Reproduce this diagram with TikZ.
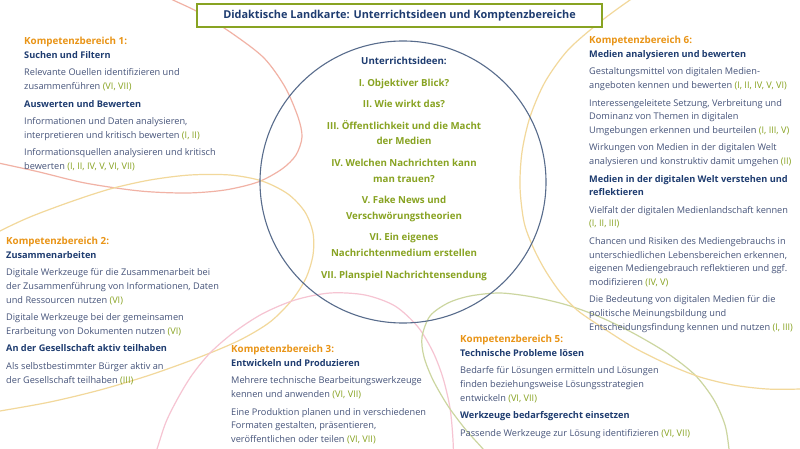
\documentclass[tikz,border=0pt]{standalone}
\usepackage{fontspec}
\setmainfont{Open Sans}
\definecolor{kborange}{RGB}{233,148,22}
\definecolor{kbblue}{RGB}{30,60,112}
\definecolor{kbtext}{RGB}{70,84,122}
\definecolor{kbgreen}{RGB}{136,163,34}
\definecolor{ringblue}{RGB}{88,108,140}
\definecolor{arcred}{RGB}{241,178,165}
\definecolor{arcyellow}{RGB}{242,216,155}
\definecolor{arcpink}{RGB}{246,196,210}
\definecolor{arcgreen}{RGB}{204,214,160}
\newcommand{\kbhead}[1]{{\fontsize{9.8}{13.6}\bfseries\color{kborange}#1}}
\newcommand{\kbsub}[1]{{\bfseries\color{kbblue}#1}}
\newcommand{\rn}[1]{\textcolor{kbgreen}{#1}}

\begin{document}
\begin{tikzpicture}[x=1pt, y=-1pt,
	every node/.style={font=\fontsize{9.2}{13.6}\selectfont},
	kb/.style={anchor=north west, align=left, inner sep=0pt, text=kbtext},
	idea/.style={anchor=north, align=center, inner sep=0pt, text=kbgreen, font=\fontsize{9.7}{15.8}\bfseries},
	arc/.style={line width=1.2pt}]
	\useasboundingbox (0,0) rectangle (800,449);
	\fill[white] (0,0) rectangle (800,449);
	\begin{scope}
		\clip (0,0) rectangle (800,449);
		\draw[arc, arcred] plot[smooth] coordinates {(140,-16) (173,0) (200,13) (233,34) (264,58) (285,87) (298,117) (302,137) (296,155) (282,169) (258,182) (225,190) (187,193) (140,191) (85,183) (35,171) (-25,158)};
		\draw[arc, arcyellow] plot[smooth] coordinates {(-25,245) (0,231) (30,217) (70,202) (110,189) (150,180) (190,175) (230,175) (262,181) (288,194) (305,212) (313,233) (313,255) (306,278) (292,300) (270,322) (240,340) (200,357) (150,375) (100,390) (50,402) (0,411) (-25,415)};
		\draw[arc, arcpink] plot[smooth] coordinates {(148,475) (157,449) (166,422) (178,398) (192,375) (210,353) (233,333) (262,314) (295,300) (330,293) (365,295) (395,306) (418,327) (433,352) (443,378) (450,408) (453,440) (454,475)};
		\draw[arc, arcgreen] plot[smooth] coordinates {(495,465) (483,449) (466,430) (448,406) (433,380) (424,357) (422,337) (430,316) (448,303) (470,296) (500,293) (533,297) (567,305) (600,317) (633,333) (667,353) (695,375) (714,400) (725,425) (729,449) (731,470)};
		\draw[arc, arcyellow] plot[smooth] coordinates {(650,-12) (630,0) (600,22) (568,50) (545,82) (530,117) (522,152) (520,187) (524,222) (533,247) (545,270) (560,292) (577,310) (600,326) (633,347) (667,364) (700,377) (733,385) (767,389) (800,389) (830,387)};
	\end{scope}
	\draw[ringblue, line width=1.1pt] (403,182) ellipse [x radius=143, y radius=141];

	\node[draw=kbgreen, line width=1.5pt, fill=white, minimum width=405pt, minimum height=23pt, inner sep=0pt, text=kbblue, font=\fontsize{10.9}{12}\bfseries] (title) at (399.5,15.5) {Didaktische Landkarte: Unterrichtsideen und Komptenzbereiche};

	\node[idea] (ideas) at (404,57) {\textcolor{kbblue}{Unterrichtsideen:}\\[5.7pt]
		I. Objektiver Blick?\\[5.7pt]
		II. Wie wirkt das?\\[5.7pt]
		III. Öffentlichkeit und die Macht\\
		der Medien\\[5.7pt]
		IV. Welchen Nachrichten kann\\
		man trauen?\\[5.7pt]
		V. Fake News und\\
		Verschwörungstheorien\\[5.7pt]
		VI. Ein eigenes\\
		Nachrichtenmedium erstellen\\[5.7pt]
		VII. Planspiel Nachrichtensendung};

	\node[kb] (k1) at (24,37) {\kbhead{Kompetenzbereich 1:}\\
		\kbsub{Suchen und Filtern}\\[4pt]
		Relevante Ouellen identifizieren und\\
		zusammenführen \rn{(VI, VII)}\\[4pt]
		\kbsub{Auswerten und Bewerten}\\[4pt]
		Informationen und Daten analysieren,\\
		interpretieren und kritisch bewerten \rn{(I, II)}\\[4pt]
		Informationsquellen analysieren und kritisch\\
		bewerten \rn{(I, II, IV, V, VI, VII)}};

	\node[kb] (k2) at (6,237) {\kbhead{Kompetenzbereich 2:}\\
		\kbsub{Zusammenarbeiten}\\[4pt]
		Digitale Werkzeuge für die Zusammenarbeit bei\\
		der Zusammenführung von Informationen, Daten\\
		und Ressourcen nutzen \rn{(VI)}\\[4pt]
		Digitale Werkzeuge bei der gemeinsamen\\
		Erarbeitung von Dokumenten nutzen \rn{(VI)}\\[4pt]
		\kbsub{An der Gesellschaft aktiv teilhaben}\\[4pt]
		Als selbstbestimmter Bürger aktiv an\\
		der Gesellschaft teilhaben \rn{(III)}};

	\node[kb] (k3) at (231,345) {\kbhead{Kompetenzbereich 3:}\\
		\kbsub{Entwickeln und Produzieren}\\[4pt]
		Mehrere technische Bearbeitungswerkzeuge\\
		kennen und anwenden \rn{(VI, VII)}\\[4pt]
		Eine Produktion planen und in verschiedenen\\
		Formaten gestalten, präsentieren,\\
		veröffentlichen oder teilen \rn{(VI, VII)}};

	\node[kb] (k5) at (460,335) {\kbhead{Kompetenzbereich 5:}\\
		\kbsub{Technische Probleme lösen}\\[4pt]
		Bedarfe für Lösungen ermitteln und Lösungen\\
		finden beziehungsweise Lösungsstrategien\\
		entwickeln \rn{(VI, VII)}\\[4pt]
		\kbsub{Werkzeuge bedarfsgerecht einsetzen}\\[4pt]
		Passende Werkzeuge zur Lösung identifizieren \rn{(VI, VII)}};

	\node[kb] (k6) at (589,36) {\kbhead{Kompetenzbereich 6:}\\
		\kbsub{Medien analysieren und bewerten}\\[4pt]
		Gestaltungsmittel von digitalen Medien-\\
		angeboten kennen und bewerten \rn{(I, II, IV, V, VI)}\\[4pt]
		Interessengeleitete Setzung, Verbreitung und\\
		Dominanz von Themen in digitalen\\
		Umgebungen erkennen und beurteilen \rn{(I, III, V)}\\[4pt]
		Wirkungen von Medien in der digitalen Welt\\
		analysieren und konstruktiv damit umgehen \rn{(II)}\\[4pt]
		\kbsub{Medien in der digitalen Welt verstehen und}\\
		\kbsub{reflektieren}\\[4pt]
		Vielfalt der digitalen Medienlandschaft kennen\\
		\rn{(I, II, III)}\\[4pt]
		Chancen und Risiken des Mediengebrauchs in\\
		unterschiedlichen Lebensbereichen erkennen,\\
		eigenen Mediengebrauch reflektieren und ggf.\\
		modifizieren \rn{(IV, V)}\\[4pt]
		Die Bedeutung von digitalen Medien für die\\
		politische Meinungsbildung und\\
		Entscheidungsfindung kennen und nutzen \rn{(I, III)}};
\end{tikzpicture}
\end{document}
